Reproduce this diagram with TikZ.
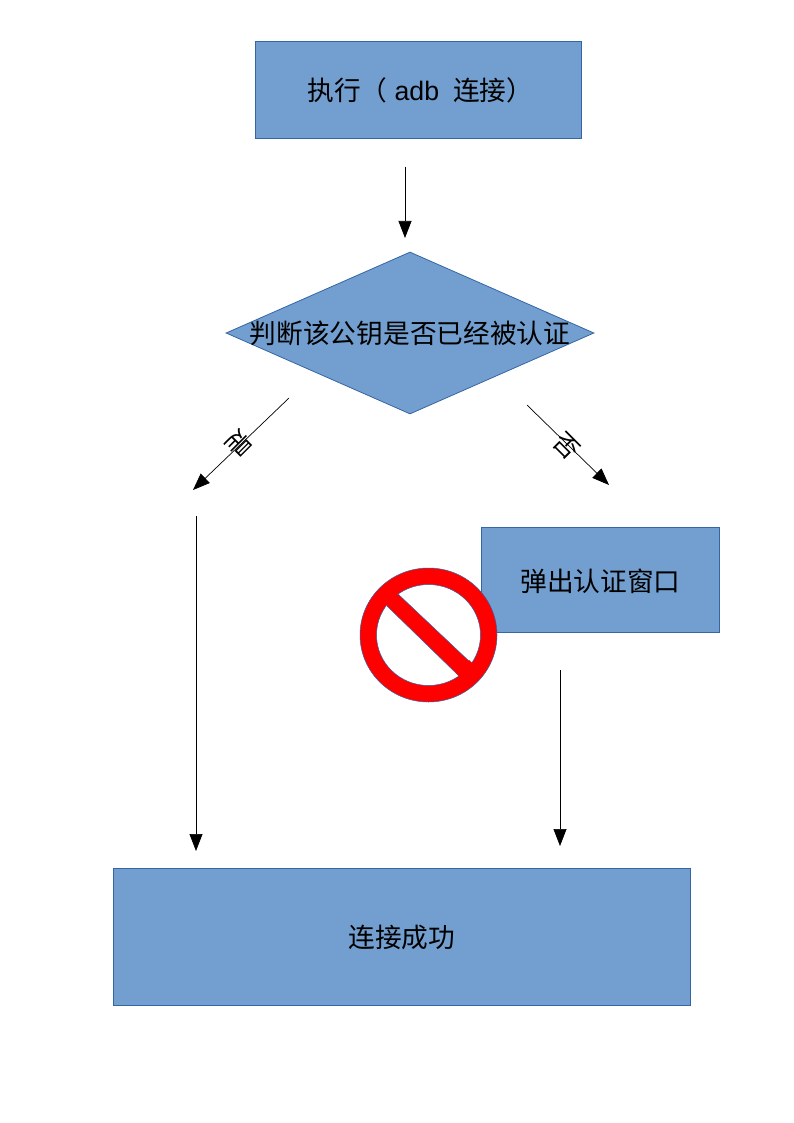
\documentclass[tikz,border=0pt]{standalone}
\usepackage{fontspec}
\setmainfont{Liberation Sans}
\newfontfamily\cjk{Noto Sans CJK SC}
\usetikzlibrary{arrows.meta,shapes.geometric}
\definecolor{boxfill}{HTML}{729FCF}
\definecolor{boxline}{HTML}{3465A4}
\tikzset{
  flowbox/.style={draw=boxline,fill=boxfill,line width=0.8pt,inner sep=0pt,anchor=north west,
    font=\fontsize{26.7}{30}\selectfont\cjk,text=black},
  boxtext/.style={inner sep=0pt,font=\fontsize{26.7}{30}\selectfont\cjk,text=black},
  link/.style={draw=black,line width=0.7pt,-{Triangle[length=17pt,width=13pt]}},
  tag/.style={inner sep=0pt,font=\fontsize{25}{28}\selectfont\cjk,text=black}
}
\begin{document}
\begin{tikzpicture}[x=1pt,y=-1pt]
\useasboundingbox (0,0) rectangle (794,1123);

% process boxes
\node[flowbox,minimum width=326pt,minimum height=97pt] (run) at (255,41)
  {\hspace{4pt}执行（\hspace{1pt} {\fontsize{26.7}{30}\selectfont\rmfamily adb}\hspace{8pt} 连接）};
\node[flowbox,minimum width=238pt,minimum height=105pt] (popup) at (481,527)
  {\raisebox{-1pt}[\height][\depth]{弹出认证窗口}};
\node[flowbox,minimum width=577pt,minimum height=137pt] (done) at (113,868)
  {\raisebox{-1pt}[\height][\depth]{连接成功}};

% decision: the outline and its caption are separate so the caption may run close to the corners
\node[flowbox,anchor=center,diamond,aspect=2.27,minimum width=368pt,minimum height=162pt] (check) at (410,333) {};
\node[boxtext] (checktext) at (check.center) {判断该公钥是否已经被认证};

% connector ends
\coordinate (a1) at (405,167);
\coordinate (a2) at (405,238);
\coordinate (y1) at (289,398);
\coordinate (y2) at (193,490);
\coordinate (n1) at (527,405);
\coordinate (n2) at (609,485);
\coordinate (y3) at (196,516);
\coordinate (y4) at (196,851);
\coordinate (n3) at (560,670);
\coordinate (n4) at (560,846);

\draw[link] (a1) -- (a2);
\draw[link] (y1) -- (y2);
\draw[link] (n1) -- (n2);
\draw[link] (y3) -- (y4);
\draw[link] (n3) -- (n4);

% branch labels, turned along their connectors
\node[tag,rotate=-135] (yes) at (239,444) {是};
\node[tag,rotate=-45] (no) at (567,446) {否};

% prohibition sign
\fill[white] (428.5,635) ellipse [x radius=52,y radius=50.5];
\draw[boxline,line width=0.5pt,fill=red,even odd rule]
  (428.5,635) ellipse [x radius=68.5,y radius=67]
  (428.5,635) ellipse [x radius=52,y radius=50.5];
\draw[boxline,line width=0.5pt,fill=red] (398,594) -- (387,606) -- (459,676) -- (471,663) -- cycle;
\fill[red] (392,592) -- (383,601) -- (391,609) -- (400,597) -- cycle;
\fill[red] (456,673) -- (462,679) -- (475,666) -- (469,660) -- cycle;
\end{tikzpicture}
\end{document}
